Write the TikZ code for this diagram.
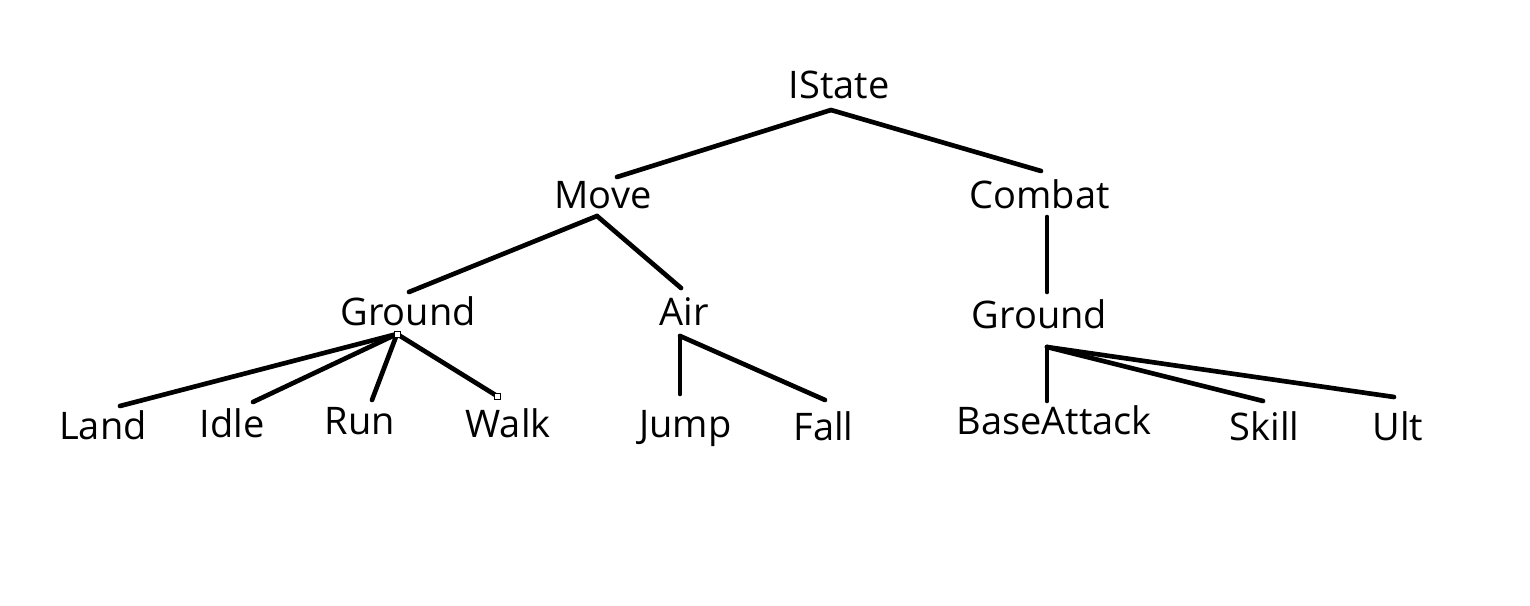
\documentclass[tikz,border=0pt]{standalone}
\usepackage{fontspec}
\setmainfont{Open Sans}
\begin{document}
\begin{tikzpicture}[x=0.75pt,y=-0.75pt,
  lbl/.style={anchor=base,inner sep=0pt,font=\fontsize{28.5}{31}\selectfont},
  edge/.style={line width=3.5pt,line cap=round},
  marker/.style={draw=black,fill=white,line width=0.6pt,minimum size=4.5pt,inner sep=0pt}]
\useasboundingbox[fill=white] (0,0) rectangle (1530,606);
% labels
\node[lbl] (istate) at (839,99) {IState};
\node[lbl] (move) at (603,208) {Move};
\node[lbl] (combat) at (1039.5,208) {Combat};
\node[lbl] (groundl) at (408,325) {Ground};
\node[lbl] (air) at (684,325) {Air};
\node[lbl] (groundr) at (1039.5,328) {Ground};
\node[lbl] (land) at (103,439) {Land};
\node[lbl] (idle) at (232,437) {Idle};
\node[lbl] (run) at (360,434) {Run};
\node[lbl] (walk) at (508,437) {Walk};
\node[lbl] (jump) at (685.5,437) {Jump};
\node[lbl] (fall) at (823.5,440) {Fall};
\node[lbl] (baseattack) at (1054,434) {BaseAttack};
\node[lbl] (skill) at (1264.5,440) {Skill};
\node[lbl] (ult) at (1398,440) {Ult};
% connector ends
\coordinate (istate-b) at (831,110);
\coordinate (move-t) at (617,177);
\coordinate (combat-t) at (1041,171);
\coordinate (move-b) at (597,216);
\coordinate (groundl-t) at (409,292);
\coordinate (air-t) at (681,288);
\coordinate (combat-b) at (1047,217);
\coordinate (groundr-t) at (1047,292);
\coordinate (groundl-b) at (397,334);
\coordinate (land-t) at (120,406);
\coordinate (idle-t) at (253,402);
\coordinate (run-t) at (372,400);
\coordinate (walk-t) at (497,396);
\coordinate (air-b) at (680,336);
\coordinate (jump-t) at (680,394);
\coordinate (fall-t) at (825,400);
\coordinate (groundr-b) at (1047,347);
\coordinate (baseattack-t) at (1047,401);
\coordinate (skill-t) at (1263,401);
\coordinate (ult-t) at (1394,397);
% connectors
\draw[edge] (istate-b) -- (move-t);
\draw[edge] (istate-b) -- (combat-t);
\draw[edge] (move-b) -- (groundl-t);
\draw[edge] (move-b) -- (air-t);
\draw[edge] (combat-b) -- (groundr-t);
\draw[edge] (groundl-b) -- (land-t);
\draw[edge] (groundl-b) -- (idle-t);
\draw[edge] (groundl-b) -- (run-t);
\draw[edge] (groundl-b) -- (walk-t);
\draw[edge] (air-b) -- (jump-t);
\draw[edge] (air-b) -- (fall-t);
\draw[edge] (groundr-b) -- (baseattack-t);
\draw[edge] (groundr-b) -- (skill-t);
\draw[edge] (groundr-b) -- (ult-t);
% small selection squares
\node[marker] (sq1) at (groundl-b) {};
\node[marker] (sq2) at (walk-t) {};
\end{tikzpicture}
\end{document}
